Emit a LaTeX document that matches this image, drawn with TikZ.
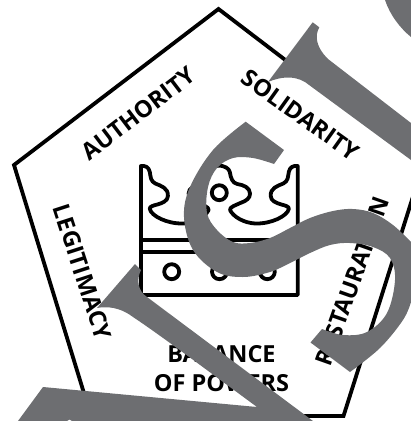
\documentclass[tikz,border=0pt]{standalone}
\usepackage{fontspec}
\setmainfont{Open Sans}
\usepackage{xcolor}
\definecolor{lettergrey}{HTML}{6D6E71}

\begin{document}
\begin{tikzpicture}[x=1pt, y=-1pt,
    edge/.style={draw=black, line width=3.8pt, miter limit=10},
    crownline/.style={draw=black, line width=3.8pt, line join=round},
    lettershape/.style={fill=lettergrey, draw=none},
    caption/.style={font=\bfseries\fontsize{23.5}{29}\selectfont, text=black, align=center, inner sep=0pt}]
  \useasboundingbox (0,0) rectangle (411,421);
  \clip (0,0) rectangle (411,421);
  % pentagon
  \draw[edge] (218.5,9) -- (423,165) -- (343.5,416) -- (91,416) -- (14,165) -- cycle;
  % crown, one half and its mirror image
  \foreach \side in {1,-1} {
    \begin{scope}[shift={(219.3,0)}, xscale=\side]
      \draw[crownline] (1,295) -- (-78.4,295) -- (-78.4,166)
        .. controls (-74,165.5) and (-70.5,167) .. (-69.5,172)
        .. controls (-68.5,177) and (-69,181) .. (-64,183.5)
        .. controls (-58,186) and (-51,188) .. (-51.4,196)
        .. controls (-51.5,201) and (-57,203) .. (-62,204.5)
        .. controls (-66,205.5) and (-70,206.5) .. (-69.5,209)
        .. controls (-68,216) and (-52,224) .. (-36,223.5)
        .. controls (-25,223) and (-14,217) .. (-10.7,210)
        .. controls (-10,207) and (-17,205) .. (-21,203)
        .. controls (-27,201) and (-31,198) .. (-30.7,193.5)
        .. controls (-30.5,188) and (-25,185) .. (-18,184)
        .. controls (-13,183) and (-11.5,178) .. (-10.5,172)
        .. controls (-9.5,168) and (-5,166) .. (0,165.5);
      \draw[crownline] (-78.4,240) -- (1,240);
      \draw[crownline] (-78.4,252) -- (1,252);
    \end{scope}
  }
  \draw[crownline] (219.3,192.7) circle (7.5);
  \foreach \xpos in {171.7,219.5,267.3}
    \draw[crownline] (\xpos,271.7) circle (7.5);
  % labels
  \node[caption, rotate=37.3] (authority) at (138.5,113.5) {AUTHORITY};
  \node[caption, rotate=-35.5] (solidarity) at (300.5,115) {SOLIDARITY};
  \node[caption, rotate=-72] (legitimacy) at (82.5,272) {LEGITIMACY};
  \node[caption, rotate=70.5] (restauration) at (352.5,281) {RESTAURATION};
  \node[caption] (balance) at (221.5,368.5) {BALANCE\\OF POWERS};
  % big letters lying over everything
  \fill[lettershape] (43,387) -- (257,407)
    .. controls (200,365) and (160,335) .. (133,317)
    .. controls (125,311) and (113,305) .. (97,308)
    -- (135,264) -- (141,270)
    .. controls (136,280) and (138,291) .. (147,297)
    -- (313,421) -- (72,421) -- (69.5,419.5) -- (67,421) -- (18,421) -- cycle;
  \fill[lettershape] (312.7,22.3) -- (319.3,27.3)
    .. controls (315,35) and (315,46) .. (328,59)
    -- (411,123) -- (411,160) -- (305,82)
    .. controls (293,75) and (280,77) .. (268,82) -- cycle;
  \fill[lettershape] (385,0) .. controls (390,15) and (400,28) .. (411,37) -- (411,0) -- cycle;
  \fill[lettershape] (245.7,121.7) -- (284,150) -- (274,164)
    -- plot[smooth, tension=0.6] coordinates {(274,164) (253,158) (233,158) (217,168) (208,187) (207,213)
      (217,230) (233,242) (250,243) (270,238) (290,228) (310,218) (333,211) (353,209) (373,213) (393,225) (411,242)}
    -- (411,302)
    -- plot[smooth, tension=0.6] coordinates {(411,302) (403,320) (380,348) (350,372)}
    -- (310.5,342.5) -- (322,329)
    -- plot[smooth, tension=0.6] coordinates {(322,329) (343,335) (367,332) (387,313) (395,280) (390,258) (373,247)
      (350,243) (330,245) (310,253) (290,263) (270,272) (243,277) (217,272) (193,250) (184,217) (190,187) (213,150) (245.7,121.7)}
    -- cycle;
\end{tikzpicture}
\end{document}
